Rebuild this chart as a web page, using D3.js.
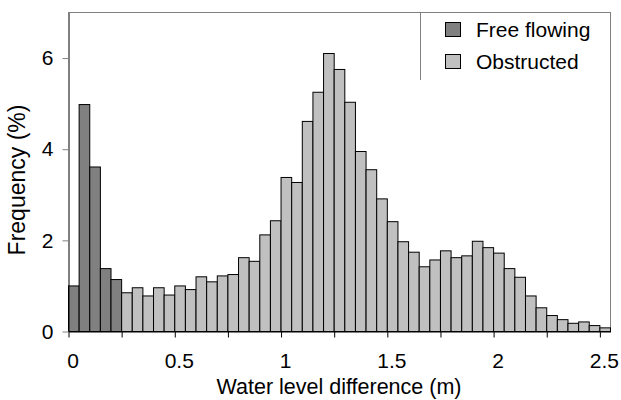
<!DOCTYPE html>
<html>
<head>
<meta charset="utf-8">
<script src="https://cdn.jsdelivr.net/npm/d3@7"></script>
<style>
  html, body { margin: 0; padding: 0; background: #fff; }
  svg { display: block; font-family: "Liberation Sans", Arial, sans-serif; }
</style>
</head>
<body>
<svg id="chart" width="621" height="400"></svg>
<script>
// ---- data ----
const binWidth = 0.05;
const freeFlowingStart = [0, 0.05, 0.10, 0.15, 0.20];
const freeFlowing = [1.00, 4.98, 3.61, 1.38, 1.14];
const obstructedStart = d3.range(46).map(i => +(0.25 + i * binWidth).toFixed(2));
const obstructed = [0.85, 0.96, 0.78, 0.96, 0.80, 1.00, 0.92, 1.20, 1.09, 1.22,
  1.25, 1.62, 1.54, 2.12, 2.43, 3.38, 3.27, 4.61, 5.25, 6.10,
  5.75, 5.03, 3.95, 3.55, 2.91, 2.41, 1.97, 1.74, 1.42, 1.57,
  1.77, 1.62, 1.66, 1.98, 1.84, 1.72, 1.38, 1.19, 0.78, 0.52,
  0.35, 0.26, 0.18, 0.21, 0.13, 0.08];
const seriesNames = ["Free flowing", "Obstructed"];
const seriesColors = ["#808080", "#c0c0c0"];
const xTickValues = [0, 0.25, 0.5, 0.75, 1, 1.25, 1.5, 1.75, 2, 2.25, 2.5];
const xTickLabels = ["0", "", "0.5", "", "1", "", "1.5", "", "2", "", "2.5"];
const yTickValues = [0, 2, 4, 6];
const xTitle = "Water level difference (m)";
const yTitle = "Frequency (%)";

// ---- layout ----
const L = 68, R = 610, T = 12, B = 331;
const FONT = "Liberation Sans, Arial, sans-serif";
const svg = d3.select("#chart");
const x = d3.scaleLinear().domain([0, 2.55]).range([L, R]);
const y = d3.scaleLinear().domain([0, 7]).range([B, T]);

// frame (top/right gray)
svg.append("line").attr("x1", L).attr("x2", R).attr("y1", T + 0.5).attr("y2", T + 0.5)
  .attr("stroke", "#808080").attr("stroke-width", 1);
svg.append("line").attr("x1", R + 0.5).attr("x2", R + 0.5).attr("y1", T).attr("y2", B)
  .attr("stroke", "#808080").attr("stroke-width", 1);
// legend box left edge
svg.append("line").attr("x1", 420.5).attr("x2", 420.5).attr("y1", T).attr("y2", 80)
  .attr("stroke", "#808080").attr("stroke-width", 1);

function drawBars(starts, vals, color) {
  svg.append("g").selectAll("rect").data(vals).join("rect")
    .attr("x", (d, i) => x(starts[i]) + 0.5)
    .attr("width", (d, i) => x(starts[i] + binWidth) - x(starts[i]))
    .attr("y", d => y(d) + 0.5)
    .attr("height", d => y(0) - y(d))
    .attr("fill", color)
    .attr("stroke", "#000")
    .attr("stroke-width", 1);
}
drawBars(freeFlowingStart, freeFlowing, seriesColors[0]);
drawBars(obstructedStart, obstructed, seriesColors[1]);

// x axis
const xAxis = svg.append("g").attr("transform", `translate(0.5,${B + 0.5})`)
  .call(d3.axisBottom(x).tickValues(xTickValues).tickSize(6).tickSizeOuter(0)
    .tickFormat((d, i) => xTickLabels[i]));
xAxis.select(".domain").attr("stroke", "#000");
xAxis.selectAll(".tick line").attr("stroke", "#000");
xAxis.selectAll(".tick text").attr("font-size", 21).attr("fill", "#000")
  .attr("font-family", FONT).attr("dx", 4).attr("y", 22);

// y axis
const yAxis = svg.append("g").attr("transform", `translate(${L + 0.5},0.5)`)
  .call(d3.axisLeft(y).tickValues(yTickValues).tickSize(6).tickSizeOuter(0)
    .tickFormat(d3.format("d")));
yAxis.select(".domain").attr("stroke", "#000");
yAxis.selectAll(".tick line").attr("stroke", "#808080");
yAxis.selectAll(".tick text").attr("font-size", 21).attr("fill", "#000")
  .attr("font-family", FONT).attr("x", -15);

// titles
svg.append("text").attr("x", (L + R) / 2).attr("y", 394)
  .attr("text-anchor", "middle").attr("font-size", 21.5).text(xTitle);
svg.append("text").attr("transform", `translate(25,180) rotate(-90)`)
  .attr("text-anchor", "middle").attr("font-size", 23).text(yTitle);

// legend
const lg = svg.append("g");
seriesNames.forEach((name, i) => {
  const yy = 22 + i * 32;
  lg.append("rect").attr("x", 445.5).attr("y", yy + 0.5).attr("width", 15).attr("height", 14)
    .attr("fill", seriesColors[i]).attr("stroke", "#000").attr("stroke-width", 1);
  lg.append("text").attr("x", 476).attr("y", yy + 15).attr("font-size", 21).text(name);
});
</script>
</body>
</html>
